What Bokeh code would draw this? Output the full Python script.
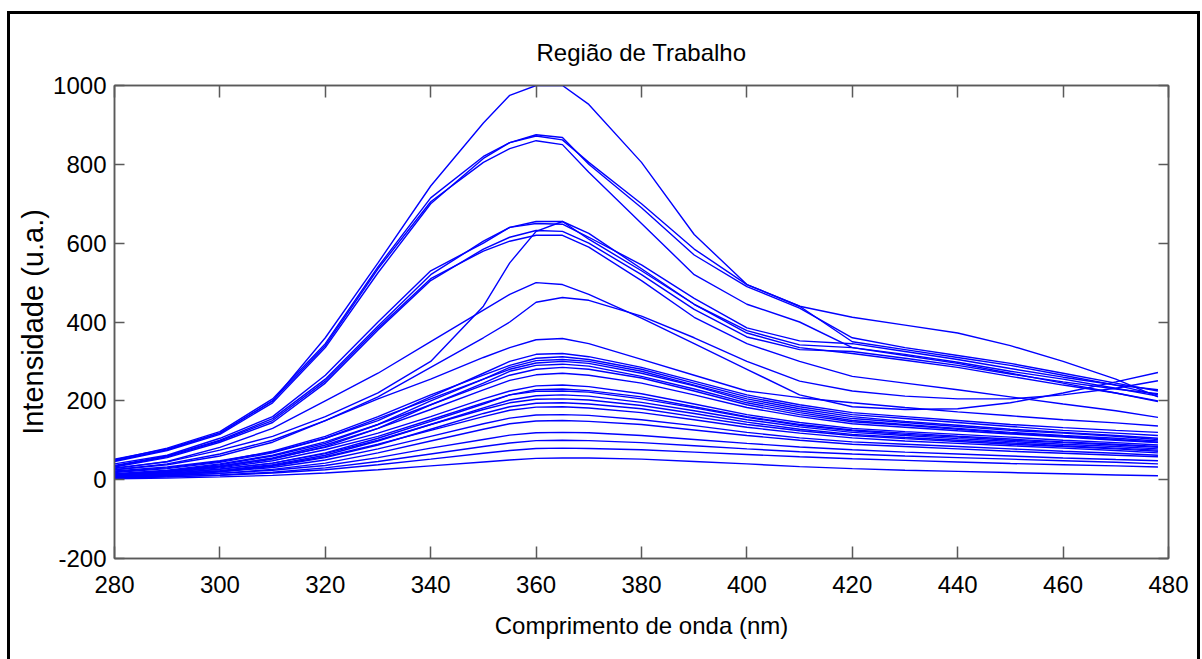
from bokeh.plotting import figure
from bokeh.models import (Range1d, FixedTicker, LinearAxis, CustomJSTickFormatter,
                          InlineStyleSheet)
from bokeh.embed import file_html
from bokeh.resources import INLINE

# ---------------- data ----------------
wavelength = [280, 290, 300, 310, 320, 330, 340, 350, 355, 360, 365, 370,
              380, 390, 400, 410, 420, 430, 440, 450, 460, 470, 478]

c01 = [52, 78, 118, 200, 360, 550, 745, 905, 975, 1000, 1000, 952, 805, 622, 495, 440, 412, 392, 372, 340, 300, 255, 210]
c02 = [50, 80, 122, 205, 345, 540, 715, 820, 855, 875, 868, 800, 690, 570, 490, 435, 360, 335, 315, 295, 270, 245, 225]
c03 = [46, 74, 115, 195, 335, 525, 700, 815, 855, 872, 862, 805, 700, 585, 495, 440, 350, 330, 310, 290, 265, 240, 215]
c04 = [48, 76, 118, 200, 340, 535, 705, 805, 840, 860, 850, 780, 650, 520, 445, 400, 335, 315, 295, 270, 245, 220, 198]
b01 = [40, 62, 105, 160, 265, 400, 530, 600, 640, 655, 655, 610, 530, 445, 378, 342, 335, 318, 298, 275, 255, 232, 212]
b02 = [36, 60, 100, 155, 255, 390, 520, 605, 640, 650, 648, 615, 545, 460, 385, 352, 345, 325, 305, 282, 260, 240, 228]
b03 = [32, 56, 95, 145, 245, 380, 505, 585, 615, 632, 630, 600, 520, 432, 362, 330, 325, 308, 290, 268, 248, 230, 218]
b04 = [34, 58, 98, 150, 250, 385, 510, 580, 605, 620, 620, 590, 505, 412, 345, 300, 262, 245, 228, 210, 192, 175, 158]
e01 = [30, 45, 75, 110, 160, 220, 300, 440, 550, 630, 655, 625, 535, 445, 372, 335, 320, 303, 285, 262, 240, 220, 200]
d01 = [28, 46, 82, 130, 200, 270, 350, 430, 470, 500, 495, 470, 410, 345, 280, 215, 185, 178, 180, 195, 220, 248, 272]
d02 = [25, 40, 65, 100, 150, 210, 285, 360, 400, 450, 462, 455, 415, 360, 300, 250, 225, 212, 205, 205, 215, 232, 251]
f01 = [25, 38, 60, 95, 150, 205, 255, 310, 335, 355, 358, 345, 305, 265, 225, 208, 195, 183, 172, 162, 152, 144, 136]
g01 = [22, 32, 48, 70, 105, 150, 210, 270, 300, 318, 320, 312, 285, 250, 215, 190, 170, 160, 150, 140, 132, 125, 120]
g02 = [20, 30, 46, 72, 110, 160, 215, 265, 290, 308, 312, 305, 280, 245, 210, 185, 165, 155, 145, 135, 125, 118, 112]
g03 = [12, 22, 38, 60, 92, 140, 200, 255, 285, 302, 305, 300, 275, 240, 205, 180, 160, 148, 138, 128, 120, 112, 105]
g04 = [18, 28, 44, 68, 105, 155, 205, 255, 280, 296, 300, 295, 270, 238, 200, 175, 155, 145, 135, 125, 118, 110, 102]
g05 = [10, 18, 32, 52, 84, 130, 190, 245, 275, 290, 293, 288, 262, 230, 195, 170, 150, 140, 130, 120, 112, 105, 98]
g06 = [15, 24, 40, 62, 96, 140, 190, 240, 265, 280, 285, 280, 258, 225, 190, 165, 147, 138, 128, 118, 110, 102, 95]
g07 = [11, 20, 34, 55, 88, 130, 178, 228, 252, 266, 270, 265, 245, 215, 183, 160, 142, 133, 124, 116, 108, 100, 94]
g08 = [13, 22, 35, 54, 82, 118, 160, 205, 225, 238, 240, 236, 218, 192, 165, 145, 130, 122, 115, 108, 100, 94, 88]
g09 = [8, 15, 26, 42, 68, 105, 148, 192, 215, 228, 230, 226, 210, 185, 160, 140, 126, 118, 110, 103, 96, 90, 84]
g10 = [10, 18, 30, 48, 76, 110, 152, 195, 215, 224, 225, 222, 205, 182, 158, 138, 124, 115, 108, 100, 94, 88, 82]
g11 = [6, 13, 23, 38, 62, 98, 140, 182, 202, 213, 215, 212, 196, 175, 152, 134, 120, 112, 104, 97, 90, 84, 78]
g12 = [9, 16, 27, 42, 66, 100, 140, 178, 195, 204, 205, 202, 188, 168, 146, 128, 115, 107, 100, 93, 86, 80, 75]
g13 = [5, 11, 20, 34, 56, 88, 128, 168, 185, 194, 195, 192, 180, 160, 140, 124, 112, 104, 97, 90, 84, 78, 72]
g14 = [7, 13, 22, 36, 58, 90, 125, 160, 176, 184, 185, 182, 170, 152, 133, 118, 106, 98, 92, 86, 80, 74, 68]
g15 = [6, 12, 20, 31, 50, 78, 110, 142, 156, 164, 165, 163, 152, 137, 120, 106, 96, 90, 84, 78, 72, 67, 62]
g16 = [4, 9, 16, 26, 42, 68, 98, 128, 142, 149, 150, 148, 140, 126, 112, 100, 90, 84, 78, 72, 67, 62, 58]
g17 = [5, 10, 16, 24, 36, 56, 80, 102, 113, 119, 120, 119, 112, 102, 92, 83, 76, 70, 65, 60, 55, 51, 48]
g18 = [3, 7, 12, 19, 30, 46, 65, 84, 93, 99, 100, 99, 94, 86, 78, 71, 65, 60, 56, 52, 48, 44, 40]
g19 = [4, 7, 11, 17, 25, 38, 52, 67, 74, 79, 80, 79, 76, 70, 64, 58, 53, 49, 45, 41, 38, 35, 32]
g20 = [2, 4, 7, 11, 17, 25, 35, 45, 50, 54, 55, 55, 52, 46, 40, 33, 28, 24, 21, 18, 15, 12, 10]

spectra = [c01, c02, c03, c04, b01, b02, b03, b04, e01, d01, d02, f01,
           g01, g02, g03, g04, g05, g06, g07, g08, g09, g10, g11, g12,
           g13, g14, g15, g16, g17, g18, g19, g20]

x_ticks = [280, 300, 320, 340, 360, 380, 400, 420, 440, 460, 480]
y_ticks = [-200, 0, 200, 400, 600, 800, 1000]
y_tick_labels = {-200: "-200"}

title_text = "Região de Trabalho"
x_label = "Comprimento de onda (nm)"
y_label = "Intensidade (u.a.)"

# ---------------- figure ----------------
FONT = "Liberation Sans"
AX_COL = "#5a5a5a"

p = figure(width=1202, height=659, output_backend="svg", toolbar_location=None,
           x_range=Range1d(280, 480), y_range=Range1d(-200, 1000),
           min_border_left=114, min_border_right=34, min_border_top=85,
           min_border_bottom=101, title=title_text)
p.background_fill_color = "white"
p.border_fill_color = "white"
p.outline_line_color = AX_COL
p.outline_line_width = 1.5
p.grid.visible = False

p.title.align = "center"
p.title.text_font = FONT
p.title.text_font_size = "24px"
p.title.text_font_style = "normal"
p.title.text_color = "black"
p.title.standoff = 40

for src in spectra:
    p.line(wavelength, src, line_color="#0000ff", line_width=1.4)

def style_axis(ax, ticks, tick_len):
    ax.ticker = FixedTicker(ticks=ticks)
    ax.axis_line_color = AX_COL
    ax.axis_line_width = 1.5
    ax.major_tick_line_color = AX_COL
    ax.major_tick_line_width = 1.5
    ax.major_tick_in = tick_len
    ax.major_tick_out = 0
    ax.minor_tick_line_color = None
    ax.major_label_text_font = FONT
    ax.major_label_text_font_size = "24px"
    ax.major_label_text_color = "black"
    ax.axis_label_text_font = FONT
    ax.axis_label_text_font_size = "24px"
    ax.axis_label_text_font_style = "normal"
    ax.axis_label_text_color = "black"

xa = p.xaxis[0]
ya = p.yaxis[0]
style_axis(xa, x_ticks, 12)
style_axis(ya, y_ticks, 10)
xa.axis_label = x_label
ya.axis_label = y_label
ya.axis_label_text_font_size = "29px"
ya.major_label_overrides = y_tick_labels
xa.major_label_standoff = 17
ya.major_label_standoff = 8
xa.axis_label_standoff = 16
ya.axis_label_standoff = 1

blank = CustomJSTickFormatter(code="return ''")
top_ax = LinearAxis(formatter=blank)
right_ax = LinearAxis(formatter=blank)
style_axis(top_ax, x_ticks, 12)
style_axis(right_ax, y_ticks, 10)
top_ax.major_label_standoff = 0
right_ax.major_label_standoff = 0
p.add_layout(top_ax, "above")
p.add_layout(right_ax, "right")

# outer black frame of the exported figure (the bottom edge lies below the window)
p.stylesheets = [InlineStyleSheet(css="""
:host { position: relative; overflow: hidden; }
:host::after {
  content: "";
  position: absolute;
  left: 7px; top: 11px; right: 2px; bottom: -30px;
  border: 3px solid black;
  pointer-events: none;
  z-index: 10;
}
""")]

open("out.html", "w").write(file_html(p, INLINE))
